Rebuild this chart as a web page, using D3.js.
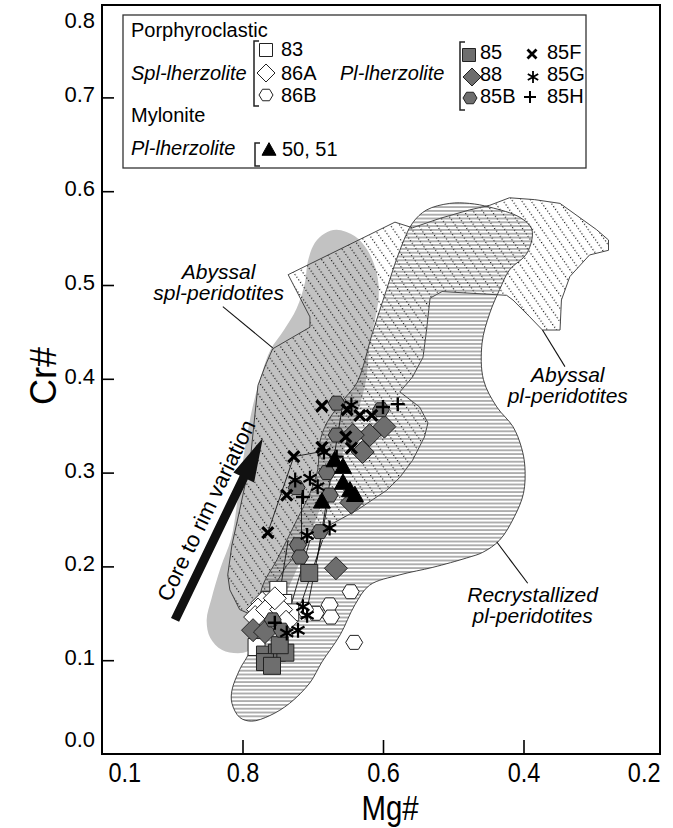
<!DOCTYPE html>
<html>
<head>
<meta charset="utf-8">
<script src="https://cdn.jsdelivr.net/npm/d3@7"></script>
<style>
  html, body { margin: 0; padding: 0; background: #fff; }
  svg { display: block; }
  text { font-family: "Liberation Sans", Arial, Helvetica, sans-serif; fill: #000; }
</style>
</head>
<body>
<svg id="chart" width="673" height="828"></svg>
<script>
// ---- Axis ticks ----
const xTickValues = [1.0, 0.8, 0.6, 0.4, 0.2];
const xTickLabels = ["0.1", "0.8", "0.6", "0.4", "0.2"];
const yTickValues = [0.0, 0.1, 0.2, 0.3, 0.4, 0.5, 0.6, 0.7, 0.8];
const yTickLabels = ["0.0", "0.1", "0.2", "0.3", "0.4", "0.5", "0.6", "0.7", "0.8"];

// ---- Compositional fields, [Mg#, Cr#] ----
const grayField = [
  [0.666,0.559],[0.640,0.552],[0.622,0.537],[0.609,0.513],[0.606,0.489],[0.610,0.468],
  [0.619,0.436],[0.624,0.399],[0.636,0.365],[0.653,0.329],[0.673,0.292],[0.693,0.255],
  [0.710,0.220],[0.733,0.180],[0.758,0.143],[0.781,0.116],[0.799,0.108],[0.829,0.111],
  [0.846,0.124],[0.851,0.143],[0.844,0.166],[0.831,0.199],[0.816,0.230],[0.807,0.271],
  [0.797,0.324],[0.785,0.372],[0.772,0.407],[0.760,0.431],[0.741,0.452],[0.723,0.475],
  [0.711,0.503],[0.707,0.525],[0.697,0.545],[0.683,0.555]
];
const abyssalField = [
  [0.735,0.511],[0.583,0.567],[0.558,0.561],[0.519,0.571],[0.477,0.580],[0.448,0.585],
  [0.420,0.593],[0.384,0.591],[0.348,0.587],[0.296,0.559],[0.279,0.548],[0.279,0.537],
  [0.306,0.532],[0.334,0.509],[0.346,0.484],[0.348,0.452],[0.373,0.452],[0.391,0.466],
  [0.415,0.484],[0.424,0.489],[0.516,0.493],[0.533,0.486],[0.538,0.452],[0.543,0.423],
  [0.558,0.402],[0.576,0.386],[0.548,0.370],[0.536,0.353],[0.541,0.338],[0.558,0.313],
  [0.576,0.295],[0.595,0.281],[0.637,0.260],[0.676,0.244],[0.711,0.223],[0.737,0.201],
  [0.758,0.175],[0.778,0.156],[0.792,0.150],[0.804,0.154],[0.818,0.175],[0.821,0.191],
  [0.815,0.223],[0.804,0.260],[0.789,0.313],[0.778,0.393],[0.767,0.415],[0.757,0.432],
  [0.704,0.455],[0.704,0.466]
];
const recrystField = [
  [0.538,0.580],[0.505,0.587],[0.477,0.587],[0.448,0.583],[0.405,0.572],[0.388,0.559],
  [0.395,0.534],[0.420,0.516],[0.434,0.495],[0.448,0.470],[0.459,0.438],[0.457,0.399],
  [0.438,0.370],[0.415,0.349],[0.403,0.327],[0.398,0.306],[0.400,0.278],[0.413,0.253],
  [0.434,0.228],[0.458,0.215],[0.481,0.209],[0.529,0.199],[0.576,0.191],[0.619,0.180],
  [0.640,0.159],[0.661,0.127],[0.687,0.098],[0.704,0.076],[0.733,0.054],[0.761,0.041],
  [0.787,0.035],[0.804,0.039],[0.815,0.054],[0.815,0.068],[0.804,0.090],[0.789,0.111],
  [0.772,0.178],[0.751,0.207],[0.723,0.249],[0.704,0.278],[0.693,0.303],[0.690,0.332],
  [0.680,0.353],[0.657,0.377],[0.637,0.396],[0.615,0.449],[0.595,0.495],[0.576,0.537],
  [0.558,0.566]
];

// ---- Spinel analyses, [Mg#, Cr#] ----
const sample83   = [[0.749,0.175],[0.742,0.161],[0.780,0.114],[0.761,0.164],[0.732,0.151]];
const sample86A  = [[0.772,0.161],[0.778,0.154],[0.782,0.146],[0.765,0.154],[0.745,0.154],[0.738,0.141],[0.754,0.166]];
const sample86B  = [[0.646,0.173],[0.676,0.159],[0.674,0.146],[0.696,0.150],[0.641,0.119],[0.711,0.154]];
const sample85   = [[0.705,0.193],[0.768,0.106],[0.751,0.108],[0.739,0.108],[0.768,0.098],[0.758,0.094],[0.747,0.116]];
const sample88   = [[0.598,0.349],[0.619,0.340],[0.643,0.340],[0.629,0.322],[0.645,0.268],[0.667,0.198],[0.785,0.132],[0.768,0.130]];
const sample85B  = [[0.666,0.374],[0.603,0.367],[0.666,0.340],[0.680,0.300],[0.676,0.276],[0.723,0.284],[0.690,0.237],[0.721,0.223],[0.718,0.210],[0.757,0.143],[0.744,0.132]];
const sample5051 = [[0.657,0.306],[0.657,0.289],[0.640,0.276],[0.687,0.269],[0.669,0.313],[0.647,0.281]];
const sample85F  = [[0.687,0.371],[0.651,0.367],[0.633,0.361],[0.616,0.361],[0.653,0.338],[0.645,0.326],[0.727,0.317],[0.737,0.276],[0.764,0.236],[0.687,0.327]];
const sample85G  = [[0.645,0.372],[0.684,0.322],[0.725,0.292],[0.704,0.294],[0.693,0.285],[0.676,0.241],[0.708,0.233],[0.714,0.157],[0.708,0.148],[0.737,0.129],[0.721,0.132]];
const sample85H  = [[0.600,0.370],[0.579,0.373],[0.666,0.317],[0.714,0.274],[0.754,0.140]];

// core-rim tie lines
const tieLines = [
  [[0.764,0.236],[0.727,0.317]],
  [[0.727,0.317],[0.676,0.324]],
  [[0.716,0.278],[0.716,0.207]],
  [[0.657,0.374],[0.694,0.207]],
  [[0.686,0.228],[0.718,0.157]],
  [[0.704,0.228],[0.730,0.161]],
  [[0.735,0.228],[0.750,0.157]],
  [[0.676,0.276],[0.711,0.143]]
];
const coreRimArrow = [[0.896,0.143],[0.771,0.337]];

// field labels: lines, anchor [Mg#, Cr#], leader [from, to]
const fieldLabels = [
  { lines: ["Abyssal", "spl-peridotites"], at: [0.834, 0.506], leader: [[0.828,0.477],[0.757,0.433]] },
  { lines: ["Abyssal", "pl-peridotites"],  at: [0.337, 0.397], leader: [[0.341,0.413],[0.373,0.452]] },
  { lines: ["Recrystallized", "pl-peridotites"], at: [0.387, 0.162], leader: [[0.394,0.182],[0.438,0.226]] }
];

// legend
const legendGroups = ["Porphyroclastic", "Mylonite"];
const legendRocks = ["Spl-lherzolite", "Pl-lherzolite", "Pl-lherzolite"];

// ---- layout ----
const svg = d3.select("#chart");
const plotLeft = 102, plotRight = 660, plotTop = 5, plotBottom = 754;
const NARROW = 0.84; // horizontal squeeze for the condensed x-axis lettering

const x = d3.scaleLinear().domain([1.0, 0.2]).range([plotLeft, plotLeft + 562]);
const y = d3.scaleLinear().domain([0, 0.8]).range([plotBottom, plotBottom - 750.4]);

// ---- symbol types (size = half-width in px) ----
const symSquare = { draw(c, s) { c.rect(-s, -s, 2 * s, 2 * s); } };
const symDiamond = { draw(c, s) { c.moveTo(0, -s); c.lineTo(s, 0); c.lineTo(0, s); c.lineTo(-s, 0); c.closePath(); } };
const symHex = { draw(c, s) {
  for (let k = 0; k < 6; k++) {
    const a = Math.PI / 3 * k;
    const px = s * Math.cos(a), py = s * Math.sin(a) * 0.95;
    if (k === 0) c.moveTo(px, py); else c.lineTo(px, py);
  }
  c.closePath();
} };
const symTri = { draw(c, s) { c.moveTo(0, -s * 1.05); c.lineTo(s, s * 0.75); c.lineTo(-s, s * 0.75); c.closePath(); } };
const symX = { draw(c, s) { c.moveTo(-s, -s); c.lineTo(s, s); c.moveTo(s, -s); c.lineTo(-s, s); } };
const symPlus = { draw(c, s) { c.moveTo(-s, 0); c.lineTo(s, 0); c.moveTo(0, -s); c.lineTo(0, s); } };
const symStar = { draw(c, s) {
  for (let k = 0; k < 3; k++) {
    const a = Math.PI / 2 + k * Math.PI / 3;
    c.moveTo(s * Math.cos(a), s * Math.sin(a));
    c.lineTo(-s * Math.cos(a), -s * Math.sin(a));
  }
} };

const GRAY = "#6e6e6e";
const series = [
  { data: sample86B,  type: symHex,     size: 8.5, fill: "#fff", stroke: "#222", sw: 1 },
  { data: sample83,   type: symSquare,  size: 8.5, fill: "#fff", stroke: "#222", sw: 1 },
  { data: sample86A,  type: symDiamond, size: 11.5, fill: "#fff", stroke: "#222", sw: 1 },
  { data: sample85,   type: symSquare,  size: 8.5, fill: GRAY, stroke: "#222", sw: 1 },
  { data: sample88,   type: symDiamond, size: 11.5, fill: GRAY, stroke: "#222", sw: 1 },
  { data: sample85B,  type: symHex,     size: 8.5, fill: GRAY, stroke: "#222", sw: 1 },
  { data: sample5051, type: symTri,     size: 8.5, fill: "#000", stroke: "#000", sw: 1 },
  { data: sample85F,  type: symX,       size: 5.5, fill: "none", stroke: "#000", sw: 3.2 },
  { data: sample85G,  type: symStar,    size: 7.5, fill: "none", stroke: "#000", sw: 2.2 },
  { data: sample85H,  type: symPlus,    size: 7,   fill: "none", stroke: "#000", sw: 2.4 }
];

// ---- patterns ----
const defs = svg.append("defs");
const dotPat = defs.append("pattern")
  .attr("id", "dotHatch").attr("patternUnits", "userSpaceOnUse")
  .attr("width", 7.6).attr("height", 3.2)
  .attr("patternTransform", "rotate(-35)");
dotPat.append("rect").attr("x", 0).attr("y", 0).attr("width", 1.15).attr("height", 1.15).attr("fill", "#111");

const linePat = defs.append("pattern")
  .attr("id", "hHatch").attr("patternUnits", "userSpaceOnUse")
  .attr("width", 8).attr("height", 3.8);
linePat.append("line").attr("x1", 0).attr("x2", 8).attr("y1", 1.9).attr("y2", 1.9)
  .attr("stroke", "#555").attr("stroke-width", 0.95);

// ---- fields ----
const toPx = d => [x(d[0]), y(d[1])];
const smooth = d3.line().curve(d3.curveCatmullRomClosed.alpha(0.5));
const straight = d3.line().curve(d3.curveLinearClosed);

const fields = svg.append("g");
fields.append("path").attr("d", smooth(grayField.map(toPx))).attr("fill", "#c2c2c2");
fields.append("path").attr("d", straight(abyssalField.map(toPx)))
  .attr("fill", "url(#dotHatch)").attr("stroke", "#333").attr("stroke-width", 0.9);
fields.append("path").attr("d", smooth(recrystField.map(toPx)))
  .attr("fill", "url(#hHatch)").attr("stroke", "#333").attr("stroke-width", 0.9);

// ---- core to rim arrow ----
{
  const p0 = toPx(coreRimArrow[0]), p1 = toPx(coreRimArrow[1]);
  const dx = p1[0] - p0[0], dy = p1[1] - p0[1], L = Math.hypot(dx, dy);
  const ux = dx / L, uy = dy / L, nx = -uy, ny = ux;
  const headLen = 44, headHalf = 11.5, shaftHalf = 4.5;
  const bx = p1[0] - ux * headLen, by = p1[1] - uy * headLen;
  const pts = [
    [p0[0] + nx * shaftHalf, p0[1] + ny * shaftHalf],
    [bx + nx * shaftHalf, by + ny * shaftHalf],
    [bx + nx * headHalf, by + ny * headHalf],
    p1,
    [bx - nx * headHalf, by - ny * headHalf],
    [bx - nx * shaftHalf, by - ny * shaftHalf],
    [p0[0] - nx * shaftHalf, p0[1] - ny * shaftHalf]
  ];
  svg.append("path").attr("d", straight(pts)).attr("fill", "#111");
  const ang = Math.atan2(dy, dx) * 180 / Math.PI;
  const s = 112, off = 12;
  const tx = p0[0] + ux * s - nx * off, ty = p0[1] + uy * s - ny * off;
  svg.append("text")
    .attr("transform", `translate(${tx},${ty}) rotate(${ang})`)
    .attr("text-anchor", "middle")
    .style("font-size", "22px")
    .text("Core to rim variation");
}

// ---- tie lines ----
svg.append("g").selectAll("line").data(tieLines).join("line")
  .attr("x1", d => x(d[0][0])).attr("y1", d => y(d[0][1]))
  .attr("x2", d => x(d[1][0])).attr("y2", d => y(d[1][1]))
  .attr("stroke", "#111").attr("stroke-width", 0.9);

// ---- markers ----
const marks = svg.append("g");
series.forEach(sr => {
  marks.append("g").selectAll("path").data(sr.data).join("path")
    .attr("transform", d => `translate(${x(d[0])},${y(d[1])})`)
    .attr("d", d3.symbol(sr.type, sr.size)())
    .attr("fill", sr.fill).attr("stroke", sr.stroke)
    .attr("stroke-width", sr.sw).attr("stroke-linejoin", "miter");
});

// ---- field labels ----
fieldLabels.forEach(f => {
  svg.append("line")
    .attr("x1", x(f.leader[0][0])).attr("y1", y(f.leader[0][1]))
    .attr("x2", x(f.leader[1][0])).attr("y2", y(f.leader[1][1]))
    .attr("stroke", "#111").attr("stroke-width", 1.1);
  const t = svg.append("text")
    .attr("x", x(f.at[0])).attr("y", y(f.at[1]))
    .attr("text-anchor", "middle")
    .style("font-size", "21px").style("font-style", "italic");
  f.lines.forEach((ln, i) => t.append("tspan").attr("x", x(f.at[0])).attr("dy", i ? 21 : 0).text(ln));
});

// ---- axes ----
const yAxis = d3.axisLeft(y).tickValues(yTickValues)
  .tickFormat((d, i) => yTickLabels[i]).tickSize(-12).tickPadding(7);
const gy = svg.append("g").attr("transform", `translate(${plotLeft},0)`).call(yAxis);
gy.select(".domain").remove();
gy.selectAll(".tick line").attr("stroke", "#000").attr("stroke-width", 1.6)
  .filter(d => d === 0 || d === 0.8).remove();
gy.selectAll(".tick text").attr("font-family", null)
  .style("font-size", "22px").attr("fill", "#000")
  .attr("dy", d => d === 0 ? "-8px" : d === 0.8 ? "24px" : "4.5px");

const xAxis = d3.axisBottom(x).tickValues(xTickValues)
  .tickFormat((d, i) => xTickLabels[i]).tickSize(-14).tickPadding(8);
const gx = svg.append("g").attr("transform", `translate(0,${plotBottom})`).call(xAxis);
gx.select(".domain").remove();
gx.selectAll(".tick line").attr("stroke", "#000").attr("stroke-width", 1.6)
  .filter(d => d === 1.0 || d === 0.2).remove();
gx.selectAll(".tick text").attr("font-family", null)
  .style("font-size", "28px").attr("fill", "#000")
  .attr("transform", `scale(${NARROW},1)`)
  .attr("text-anchor", d => d === 1.0 ? "start" : d === 0.2 ? "end" : "middle")
  .attr("dx", d => d === 1.0 ? `${6 / NARROW}px` : d === 0.2 ? `${-4 / NARROW}px` : 0);

// frame
svg.append("rect").attr("x", plotLeft).attr("y", plotTop)
  .attr("width", plotRight - plotLeft).attr("height", plotBottom - plotTop)
  .attr("fill", "none").attr("stroke", "#000").attr("stroke-width", 2);

// axis titles
svg.append("text").attr("transform", `translate(390,820) scale(${NARROW},1)`)
  .attr("text-anchor", "middle").style("font-size", "35px").text("Mg#");
svg.append("text").attr("transform", "translate(56,376) rotate(-90)")
  .attr("text-anchor", "middle").style("font-size", "36px").text("Cr#");

// ---- legend ----
const lg = svg.append("g");
lg.append("rect").attr("x", 123).attr("y", 15).attr("width", 463).attr("height", 153)
  .attr("fill", "#fff").attr("stroke", "#333").attr("stroke-width", 1.3);
const lgText = (tx, ty, str, italic) => lg.append("text").attr("x", tx).attr("y", ty)
  .style("font-size", "20px").style("font-style", italic ? "italic" : "normal").text(str);
const bracket = (bx, y0, y1) => lg.append("path")
  .attr("d", `M${bx + 5},${y0}H${bx}V${y1}H${bx + 5}`)
  .attr("fill", "none").attr("stroke", "#222").attr("stroke-width", 1.5);
const lgSym = (cx, cy, type, size, fill, stroke, sw) => lg.append("path")
  .attr("transform", `translate(${cx},${cy})`).attr("d", d3.symbol(type, size)())
  .attr("fill", fill).attr("stroke", stroke).attr("stroke-width", sw);

lgText(131, 37, legendGroups[0]);
lgText(131, 80, legendRocks[0], true);
bracket(254, 41, 106);
lgSym(266, 50, symSquare, 6.5, "#fff", "#222", 1);
lgSym(266, 73, symDiamond, 9, "#fff", "#222", 1);
lgSym(266, 95, symHex, 7, "#fff", "#222", 1);
lgText(281, 56, "83");
lgText(281, 80, "86A");
lgText(281, 102, "86B");

lgText(131, 122, legendGroups[1]);
lgText(131, 155, legendRocks[2], true);
bracket(255, 143, 166);
lgSym(269, 150, symTri, 7, "#000", "#000", 1);
lgText(282, 156, "50, 51");

lgText(340, 80, legendRocks[1], true);
bracket(460, 42, 110);
lgSym(469, 55, symSquare, 6.5, GRAY, "#222", 1);
lgSym(472, 77, symDiamond, 9, GRAY, "#222", 1);
lgSym(470, 98, symHex, 7, GRAY, "#222", 1);
lgText(480, 59, "85");
lgText(480, 81, "88");
lgText(480, 103, "85B");
lgSym(532, 54, symX, 4.5, "none", "#000", 2.8);
lgSym(533, 77, symStar, 6, "none", "#000", 1.8);
lgSym(530, 97, symPlus, 6, "none", "#000", 2);
lgText(547, 59, "85F");
lgText(547, 81, "85G");
lgText(547, 103, "85H");
</script>
</body>
</html>
